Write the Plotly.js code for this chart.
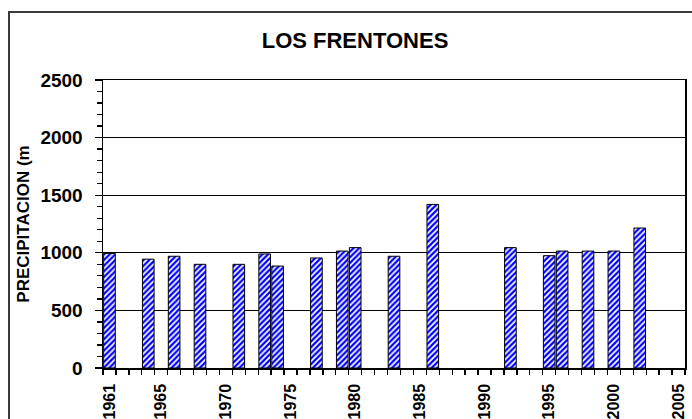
<!DOCTYPE html>
<html>
<head>
<meta charset="utf-8">
<script src="https://cdn.plot.ly/plotly-3.0.1.min.js"></script>
<style>
  html, body { margin: 0; padding: 0; background: #fff; overflow: hidden; }
  #wrap { position: relative; width: 692px; height: 419px; overflow: hidden; }
  #chart { position: absolute; left: 0; top: 0; width: 692px; height: 419px; }
  #frame { position: absolute; left: 8px; top: 11px; width: 760px; height: 500px;
           border: 2px solid #3a3a3a; pointer-events: none; }
</style>
</head>
<body>
<div id="wrap">
  <div id="chart"></div>
  <div id="frame"></div>
</div>
<script>
const years = [1961, 1964, 1966, 1968, 1971, 1973, 1974, 1977, 1979, 1980,
               1983, 1986, 1992, 1995, 1996, 1998, 2000, 2002];
const precipitation = [995, 945, 970, 900, 900, 990, 885, 955, 1015, 1045,
                       970, 1420, 1045, 975, 1015, 1015, 1015, 1215];
const tickYears = [1961, 1965, 1970, 1975, 1980, 1985, 1990, 1995, 2000, 2005];
const tickLabels = tickYears.map(String);

const boldFont = 'Liberation Sans, Arial, sans-serif';

const trace = {
  type: 'bar',
  x: years,
  y: precipitation,
  width: 0.9,
  marker: {
    color: '#0000ff',
    line: { color: '#000000', width: 1 },
    pattern: { shape: '/', fgcolor: '#0000ff', bgcolor: '#ffffff', size: 4, solidity: 0.55, fillmode: 'replace' }
  },
  hoverinfo: 'x+y'
};

const layout = {
  width: 692,
  height: 419,
  margin: { l: 103, r: 7, t: 80, b: 51 },
  paper_bgcolor: '#ffffff',
  plot_bgcolor: '#ffffff',
  showlegend: false,
  title: {
    text: '<b>LOS FRENTONES</b>',
    font: { family: boldFont, size: 22, color: '#000' },
    xref: 'container', x: 355 / 692, xanchor: 'center',
    yref: 'container', y: 1 - 40 / 419, yanchor: 'middle'
  },
  xaxis: {
    range: [1960.5, 2005.5],
    tickmode: 'array',
    tickvals: tickYears,
    ticktext: tickLabels,
    tickangle: -90,
    ticks: '',
    ticklabelstandoff: 8,
    tickfont: { family: boldFont, size: 16, color: '#000', weight: 'bold' },
    showgrid: false,
    zeroline: false,
    showline: true, mirror: true, linecolor: '#000', linewidth: 1.5,
    minor: { tickmode: 'linear', tick0: 1960.5, dtick: 1, ticks: 'outside', ticklen: 5, tickcolor: '#000', tickwidth: 1.3, showgrid: false }
  },
  yaxis: {
    range: [0, 2500],
    tickmode: 'linear', tick0: 0, dtick: 500,
    ticks: 'outside', ticklen: 7, tickcolor: '#000', tickwidth: 1.3,
    ticklabelstandoff: 8,
    tickfont: { family: boldFont, size: 19, color: '#000', weight: 'bold' },
    showgrid: true, gridcolor: '#000', gridwidth: 1.3,
    zeroline: false,
    showline: true, mirror: true, linecolor: '#000', linewidth: 1.5,
    minor: { tickmode: 'linear', tick0: 0, dtick: 100, ticks: 'outside', ticklen: 5, tickcolor: '#000', tickwidth: 1.3, showgrid: false },
    title: {
      text: '<b>PRECIPITACION (m</b>',
      font: { family: boldFont, size: 17, color: '#000' },
      standoff: 6
    },
    automargin: false
  }
};

Plotly.newPlot('chart', [trace], layout, { displayModeBar: false, staticPlot: true });
</script>
</body>
</html>
